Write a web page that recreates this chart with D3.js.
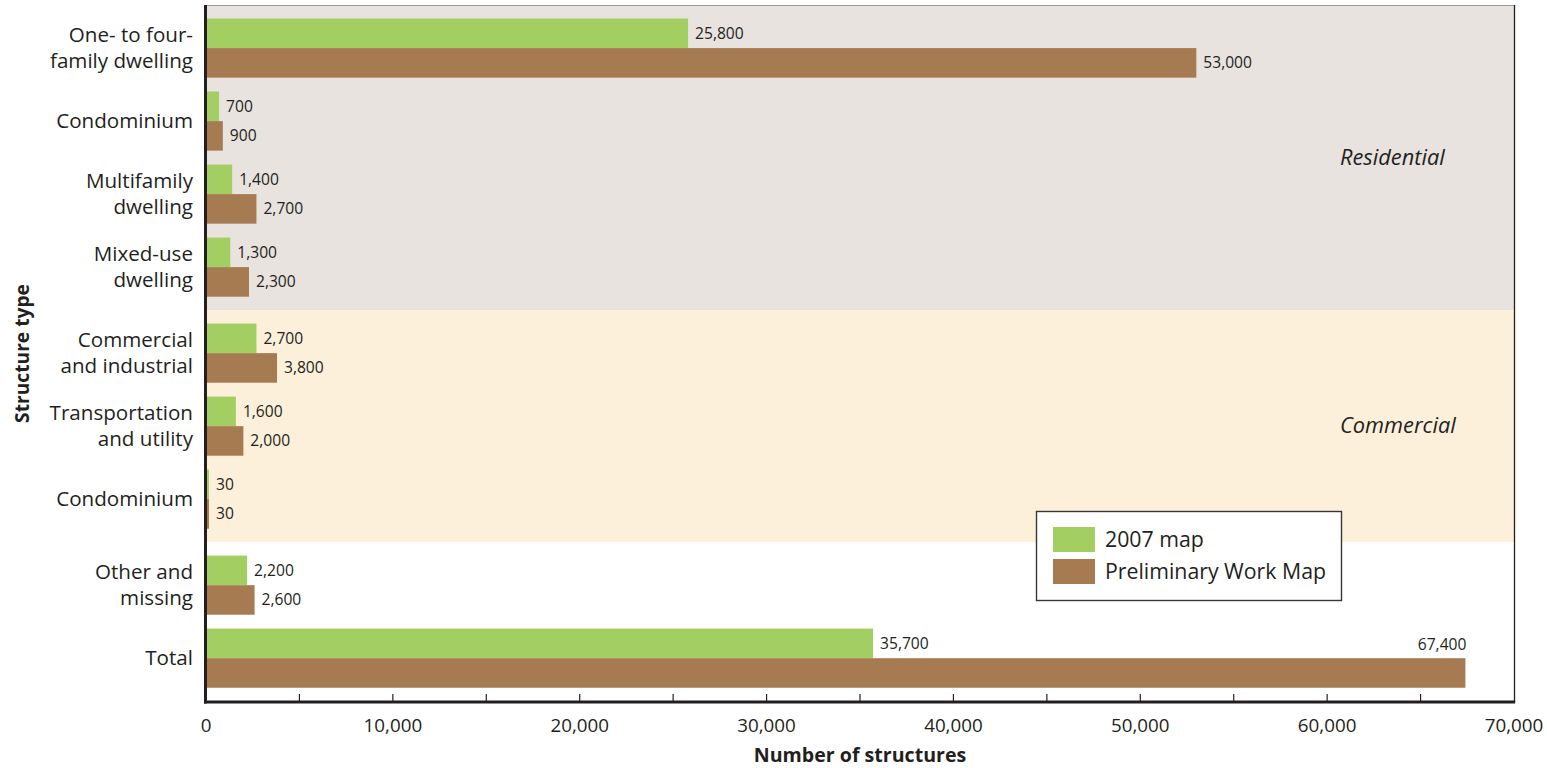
<!DOCTYPE html>
<html>
<head>
<meta charset="utf-8">
<script src="https://cdn.jsdelivr.net/npm/d3@7"></script>
<style>
  html, body { margin: 0; padding: 0; background: #fff; }
  svg { display: block; font-family: "Open Sans", "Noto Sans", sans-serif; }
</style>
</head>
<body>
<svg id="chart" width="1547" height="768"></svg>
<script>
// Structure types, top to bottom (line breaks marked with "\n")
const categories = [
  "One- to four-\nfamily dwelling",
  "Condominium",
  "Multifamily\ndwelling",
  "Mixed-use\ndwelling",
  "Commercial\nand industrial",
  "Transportation\nand utility",
  "Condominium",
  "Other and\nmissing",
  "Total"
];
// Which band each structure type belongs to
const groups = ["Residential", "Residential", "Residential", "Residential",
                "Commercial", "Commercial", "Commercial", "Other", "Other"];
const seriesNames = ["2007 map", "Preliminary Work Map"];
const map2007 = [25800, 700, 1400, 1300, 2700, 1600, 30, 2200, 35700];
const workMap = [53000, 900, 2700, 2300, 3800, 2000, 30, 2600, 67400];
const xTicks = [0, 10000, 20000, 30000, 40000, 50000, 60000, 70000];
const bandNames = ["Residential", "Commercial"];

const colors = { green: "#a3cf62", brown: "#a77b51", resBg: "#e8e3df", comBg: "#fcf0db", ink: "#231f20" };

const svg = d3.select("#chart");
const L = 206, R = 1514, T = 5, B = 702;

const x = d3.scaleLinear().domain([0, 70000]).range([L, R]);

// Rows are spaced evenly, with a little extra room between groups
const groupOrder = ["Residential", "Commercial", "Other"];
const gapUnits = 0.178;
const slot = categories.map((c, i) => i + groupOrder.indexOf(groups[i]) * gapUnits);
const y = d3.scaleLinear()
  .domain([slot[0] - 0.59, slot[slot.length - 1] + 0.6])
  .range([T, B]);
const step = y(1) - y(0);
const barH = step * 0.405;

// Background bands: each spans from the top edge of its first row to the bottom of its last
bandNames.forEach((name, bi) => {
  const idx = groups.map((g, i) => g === name ? i : -1).filter(i => i >= 0);
  const first = idx[0], last = idx[idx.length - 1];
  const top = first === 0 ? T : (y(slot[first]) + y(slot[first - 1])) / 2;
  const bot = (y(slot[last]) + y(slot[last + 1])) / 2;
  svg.append("rect")
    .attr("x", L).attr("y", top)
    .attr("width", R - L).attr("height", bot - top)
    .attr("fill", bi === 0 ? colors.resBg : colors.comBg);
  svg.append("text")
    .attr("x", 1340)
    .attr("y", (top + bot) / 2 + 7)
    .attr("font-size", 21.8)
    .attr("font-style", "italic")
    .attr("fill", colors.ink)
    .text(name);
});

// Frame: thin top and right edges
svg.append("line").attr("x1", L).attr("x2", R).attr("y1", T + 0.5).attr("y2", T + 0.5)
  .attr("stroke", "#9a9797").attr("stroke-width", 1.2);
svg.append("line").attr("x1", R + 0.5).attr("x2", R + 0.5).attr("y1", T).attr("y2", B)
  .attr("stroke", colors.ink).attr("stroke-width", 1.3);

// Bars (at least a hairline so the tiny values stay visible beside the axis)
const rows = categories.map((c, i) => ({ c, i, a: map2007[i], b: workMap[i] }));
const g = svg.append("g");
g.selectAll("rect.a").data(rows).join("rect")
  .attr("class", "a")
  .attr("x", x(0))
  .attr("y", d => y(slot[d.i]) - barH)
  .attr("width", d => Math.max(x(d.a) - x(0), 3))
  .attr("height", barH)
  .attr("fill", colors.green);
g.selectAll("rect.b").data(rows).join("rect")
  .attr("class", "b")
  .attr("x", x(0))
  .attr("y", d => y(slot[d.i]))
  .attr("width", d => Math.max(x(d.b) - x(0), 3))
  .attr("height", barH)
  .attr("fill", colors.brown);

// Value labels
const fmt = d3.format(",");
g.selectAll("text.va").data(rows).join("text")
  .attr("class", "va")
  .attr("x", d => Math.max(x(d.a), x(0) + 3) + 7)
  .attr("y", d => y(slot[d.i]) - barH / 2 + 5.5)
  .attr("font-size", 15.6)
  .attr("fill", colors.ink)
  .text(d => fmt(d.a));
g.selectAll("text.vb").data(rows).join("text")
  .attr("class", "vb")
  .attr("x", d => d.i === rows.length - 1 ? x(d.b) + 1 : Math.max(x(d.b), x(0) + 3) + 7)
  .attr("y", d => d.i === rows.length - 1 ? y(slot[d.i]) - 8 : y(slot[d.i]) + barH / 2 + 5.5)
  .attr("text-anchor", d => d.i === rows.length - 1 ? "end" : "start")
  .attr("font-size", 15.6)
  .attr("fill", colors.ink)
  .text(d => fmt(d.b));

// Category labels
const catG = svg.append("g");
rows.forEach(d => {
  const lines = d.c.split("\n");
  const lh = 25.5;
  const t = catG.append("text")
    .attr("x", 193)
    .attr("text-anchor", "end")
    .attr("font-size", 20.6)
    .attr("fill", colors.ink);
  lines.forEach((ln, k) => {
    t.append("tspan")
      .attr("x", 193)
      .attr("y", y(slot[d.i]) + 7 + (k - (lines.length - 1) / 2) * lh)
      .text(ln);
  });
});

// X axis with minor ticks every 5,000 pointing inward
const minor = d3.range(5000, 70000, 5000);
svg.append("g").selectAll("line").data(minor).join("line")
  .attr("x1", d => x(d)).attr("x2", d => x(d))
  .attr("y1", B).attr("y2", B - 8)
  .attr("stroke", colors.ink).attr("stroke-width", 1.2);
svg.append("line").attr("x1", L - 2).attr("x2", R + 1.2).attr("y1", B).attr("y2", B)
  .attr("stroke", colors.ink).attr("stroke-width", 3.2);
svg.append("line").attr("x1", L - 0.5).attr("x2", L - 0.5).attr("y1", T).attr("y2", B + 1.5)
  .attr("stroke", colors.ink).attr("stroke-width", 3);

svg.append("g").selectAll("text").data(xTicks).join("text")
  .attr("x", d => x(d))
  .attr("y", 732)
  .attr("text-anchor", "middle")
  .attr("font-size", 18.8)
  .attr("fill", colors.ink)
  .text(d => fmt(d));

// Axis titles
svg.append("text")
  .attr("x", (L + R) / 2)
  .attr("y", 762)
  .attr("text-anchor", "middle")
  .attr("font-size", 19.6)
  .attr("font-weight", "bold")
  .attr("fill", colors.ink)
  .text("Number of structures");
svg.append("text")
  .attr("transform", `translate(29, ${(T + B) / 2}) rotate(-90)`)
  .attr("text-anchor", "middle")
  .attr("font-size", 19.2)
  .attr("font-weight", "bold")
  .attr("fill", colors.ink)
  .text("Structure type");

// Legend
const lg = svg.append("g").attr("transform", "translate(1036, 511)");
lg.append("rect").attr("x", 0.5).attr("y", 0.5).attr("width", 305).attr("height", 89)
  .attr("fill", "#fff").attr("stroke", "#3a3637").attr("stroke-width", 1.4);
[colors.green, colors.brown].forEach((c, k) => {
  lg.append("rect").attr("x", 17).attr("y", 16 + k * 32).attr("width", 42).attr("height", 25).attr("fill", c);
  lg.append("text").attr("x", 69).attr("y", 36 + k * 32)
    .attr("font-size", 21.3).attr("fill", colors.ink).text(seriesNames[k]);
});
</script>
</body>
</html>
